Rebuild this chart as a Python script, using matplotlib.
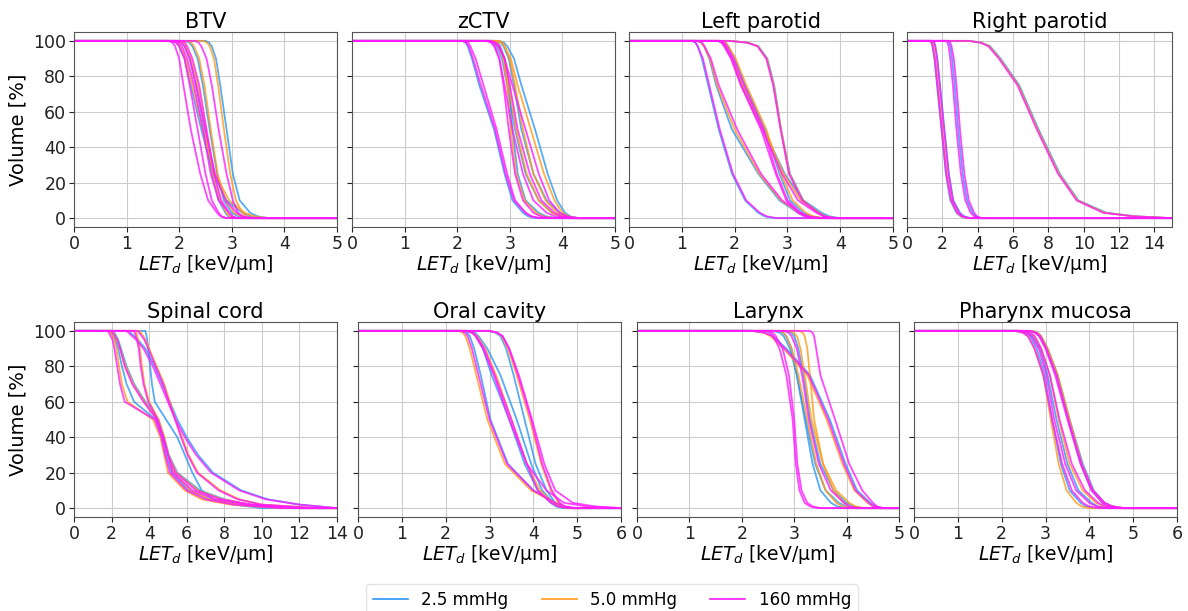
import matplotlib.pyplot as plt

LEVELS = [100, 99, 97, 90, 75, 50, 25, 10, 3, 1, 0]
SC_LEVELS = [100, 95, 90, 80, 70, 60, 50, 40, 30, 20, 10, 5, 2, 0]

OXYGEN = ['2.5 mmHg', '5.0 mmHg', '160 mmHg']
COLORS = ['#2b97f5', '#ff9a1a', '#ff1aff']

# BTV, x 0-5
BTV_BLUE = [[2.5, 2.57, 2.62, 2.7, 2.78, 2.9, 3.02, 3.15, 3.35, 3.49, 3.7],
            [1.85, 1.94, 2.0, 2.1, 2.22, 2.42, 2.65, 2.9, 3.2, 3.36, 3.6],
            [2.0, 2.06, 2.1, 2.2, 2.32, 2.48, 2.62, 2.75, 2.88, 2.93, 3.0],
            [2.1, 2.19, 2.25, 2.35, 2.45, 2.58, 2.72, 2.85, 3.0, 3.12, 3.3]]
BTV_ORANGE = [[2.45, 2.53, 2.58, 2.66, 2.74, 2.85, 2.97, 3.08, 3.2, 3.28, 3.4],
              [1.9, 1.97, 2.02, 2.12, 2.25, 2.45, 2.68, 2.95, 3.25, 3.43, 3.7],
              [2.0, 2.07, 2.12, 2.22, 2.35, 2.5, 2.64, 2.78, 2.9, 2.96, 3.05],
              [2.15, 2.23, 2.28, 2.38, 2.48, 2.6, 2.73, 2.88, 3.05, 3.19, 3.4]]
BTV_MAGENTA = [[1.8, 1.87, 1.92, 2.0, 2.08, 2.22, 2.4, 2.55, 2.72, 2.79, 2.9],
               [2.3, 2.37, 2.42, 2.52, 2.62, 2.75, 2.9, 3.02, 3.12, 3.19, 3.3],
               [1.85, 1.94, 2.0, 2.1, 2.2, 2.35, 2.5, 2.62, 2.75, 2.81, 2.9],
               [1.9, 1.99, 2.05, 2.15, 2.28, 2.45, 2.6, 2.75, 2.95, 3.01, 3.1],
               [2.05, 2.11, 2.15, 2.25, 2.38, 2.52, 2.66, 2.8, 2.95, 3.01, 3.1],
               [1.95, 2.04, 2.1, 2.2, 2.32, 2.5, 2.68, 2.88, 3.1, 3.22, 3.4]]

# zCTV, x 0-5
ZCTV_BLUE = [[2.1, 2.16, 2.2, 2.28, 2.42, 2.7, 2.9, 3.05, 3.25, 3.35, 3.5],
             [2.6, 2.69, 2.75, 2.85, 2.95, 3.1, 3.3, 3.55, 3.8, 3.96, 4.2],
             [2.75, 2.83, 2.88, 2.98, 3.08, 3.22, 3.45, 3.7, 3.95, 4.09, 4.3],
             [2.7, 2.77, 2.82, 2.9, 2.98, 3.05, 3.15, 3.3, 3.55, 3.69, 3.9],
             [2.8, 2.89, 2.95, 3.08, 3.22, 3.48, 3.72, 3.9, 4.05, 4.15, 4.3]]
ZCTV_ORANGE = [[2.65, 2.73, 2.78, 2.88, 2.98, 3.12, 3.32, 3.55, 3.8, 3.96, 4.2],
               [2.8, 2.86, 2.9, 3.0, 3.1, 3.25, 3.45, 3.68, 3.9, 4.04, 4.25],
               [2.7, 2.76, 2.8, 2.88, 2.95, 3.02, 3.12, 3.28, 3.5, 3.64, 3.85],
               [2.75, 2.84, 2.9, 3.02, 3.15, 3.4, 3.65, 3.85, 4.0, 4.12, 4.3]]
ZCTV_MAGENTA = [[2.1, 2.17, 2.22, 2.3, 2.45, 2.72, 2.92, 3.08, 3.3, 3.42, 3.6],
                [2.15, 2.21, 2.25, 2.35, 2.5, 2.75, 2.95, 3.1, 3.3, 3.4, 3.55],
                [2.55, 2.64, 2.7, 2.8, 2.9, 3.05, 3.25, 3.45, 3.7, 3.86, 4.1],
                [2.65, 2.74, 2.8, 2.9, 3.0, 3.15, 3.38, 3.6, 3.85, 3.99, 4.2],
                [2.6, 2.67, 2.72, 2.8, 2.88, 2.98, 3.1, 3.25, 3.45, 3.59, 3.8],
                [2.6, 2.71, 2.78, 2.9, 3.05, 3.3, 3.55, 3.75, 3.95, 4.09, 4.3]]

# Left parotid, x 0-5
LPAR_BLUE = [[1.2, 1.26, 1.3, 1.38, 1.5, 1.7, 1.95, 2.2, 2.45, 2.57, 2.75],
             [1.3, 1.37, 1.42, 1.52, 1.65, 1.95, 2.45, 2.85, 3.2, 3.36, 3.6],
             [1.7, 1.77, 1.82, 1.95, 2.15, 2.55, 2.95, 3.3, 3.65, 3.79, 4.0],
             [1.75, 1.83, 1.88, 2.0, 2.2, 2.58, 2.85, 3.05, 3.3, 3.46, 3.7],
             [1.9, 2.25, 2.45, 2.62, 2.75, 2.88, 3.05, 3.3, 3.6, 3.72, 3.9]]
LPAR_ORANGE = [[1.3, 1.37, 1.42, 1.53, 1.67, 2.0, 2.47, 2.88, 3.22, 3.37, 3.6],
               [1.7, 1.77, 1.82, 1.95, 2.15, 2.55, 2.93, 3.25, 3.6, 3.72, 3.9],
               [1.75, 1.83, 1.88, 2.02, 2.22, 2.6, 2.88, 3.1, 3.35, 3.49, 3.7],
               [1.9, 2.24, 2.44, 2.61, 2.74, 2.88, 3.04, 3.29, 3.59, 3.71, 3.9]]
LPAR_MAGENTA = [[1.2, 1.26, 1.3, 1.4, 1.52, 1.72, 1.97, 2.22, 2.48, 2.61, 2.8],
                [1.3, 1.38, 1.43, 1.55, 1.7, 2.05, 2.5, 2.9, 3.25, 3.39, 3.6],
                [1.68, 1.75, 1.8, 1.93, 2.12, 2.52, 2.9, 3.2, 3.55, 3.69, 3.9],
                [1.72, 1.8, 1.85, 1.98, 2.18, 2.55, 2.8, 3.0, 3.25, 3.39, 3.6],
                [1.7, 1.77, 1.82, 1.95, 2.12, 2.5, 2.78, 2.98, 3.2, 3.32, 3.5],
                [1.9, 2.23, 2.43, 2.6, 2.73, 2.87, 3.03, 3.28, 3.58, 3.7, 3.9]]

# Right parotid, x 0-15
RPAR_BLUE = [[1.3, 1.39, 1.45, 1.55, 1.7, 1.95, 2.2, 2.45, 2.8, 3.04, 3.4],
             [1.45, 1.54, 1.6, 1.72, 1.87, 2.12, 2.37, 2.62, 3.0, 3.24, 3.6],
             [2.3, 2.39, 2.45, 2.55, 2.7, 2.9, 3.15, 3.4, 3.7, 3.9, 4.2],
             [3.5, 4.2, 4.7, 5.3, 6.35, 7.45, 8.65, 9.7, 11.3, 13.0, 15.0]]
RPAR_ORANGE = [[1.35, 1.44, 1.5, 1.6, 1.75, 2.0, 2.25, 2.5, 2.85, 3.07, 3.4],
               [3.5, 4.2, 4.65, 5.25, 6.3, 7.4, 8.6, 9.65, 11.2, 12.9, 15.0]]
RPAR_MAGENTA = [[1.3, 1.39, 1.45, 1.57, 1.72, 1.97, 2.22, 2.5, 2.85, 3.11, 3.5],
                [1.45, 1.54, 1.6, 1.7, 1.85, 2.1, 2.35, 2.6, 2.95, 3.17, 3.5],
                [2.2, 2.29, 2.35, 2.45, 2.6, 2.8, 3.05, 3.3, 3.6, 3.8, 4.1],
                [2.35, 2.45, 2.52, 2.65, 2.8, 3.0, 3.25, 3.5, 3.8, 3.96, 4.2],
                [3.5, 4.15, 4.6, 5.2, 6.25, 7.35, 8.55, 9.6, 11.1, 12.8, 15.0]]

# Spinal cord, x 0-14 (finer volume levels, curves have shoulders)
SC_BLUE = [[1.9, 2.2, 2.35, 2.55, 2.8, 3.2, 4.35, 4.7, 4.9, 5.2, 6.1, 7.2, 8.7, 11],
           [2.1, 2.35, 2.5, 2.8, 3.2, 3.8, 4.5, 4.8, 5.05, 5.5, 6.7, 8.0, 9.3, 12],
           [3.8, 3.9, 3.95, 4.05, 4.15, 4.3, 4.9, 5.5, 5.9, 6.3, 6.8, 7.4, 8.5, 10],
           [2.9, 3.4, 3.8, 4.3, 4.7, 5.1, 5.5, 6.0, 6.6, 7.4, 8.9, 10.3, 12, 14]]
SC_ORANGE = [[1.9, 2.15, 2.25, 2.4, 2.55, 2.85, 4.2, 4.6, 4.8, 5.0, 5.9, 6.8, 8.3, 11],
             [2.05, 2.3, 2.45, 2.75, 3.15, 3.75, 4.45, 4.78, 5.02, 5.45, 6.6, 7.9, 9.4, 12],
             [3.3, 3.42, 3.5, 3.62, 3.75, 4.0, 4.5, 4.8, 5.0, 5.3, 6.2, 7.2, 9.0, 12],
             [3.5, 3.8, 4.0, 4.4, 4.8, 5.1, 5.4, 5.75, 6.1, 6.6, 7.8, 8.8, 10, 13]]
SC_MAGENTA = [[1.8, 2.05, 2.15, 2.3, 2.45, 2.7, 4.3, 4.65, 4.85, 5.1, 6.0, 7.0, 8.5, 11],
              [2.0, 2.3, 2.45, 2.7, 3.1, 3.7, 4.4, 4.75, 5.0, 5.4, 6.5, 7.8, 9.5, 12],
              [3.2, 3.35, 3.45, 3.55, 3.7, 3.95, 4.45, 4.75, 5.0, 5.25, 6.3, 7.5, 9.2, 12],
              [3.4, 3.75, 3.95, 4.35, 4.75, 5.05, 5.38, 5.7, 6.05, 6.55, 7.7, 8.7, 10, 13],
              [2.8, 3.3, 3.7, 4.2, 4.6, 5.0, 5.4, 5.9, 6.5, 7.3, 8.8, 10.2, 12, 14]]

# Oral cavity, x 0-6
OC_BLUE = [[2.4, 2.49, 2.55, 2.65, 2.8, 3.02, 3.42, 4.0, 4.5, 4.66, 4.9],
           [2.5, 2.62, 2.7, 2.85, 3.05, 3.45, 3.8, 4.1, 4.4, 4.52, 4.7],
           [2.55, 2.67, 2.75, 2.95, 3.25, 3.62, 3.95, 4.2, 4.45, 4.55, 4.7],
           [2.95, 3.13, 3.25, 3.38, 3.55, 3.8, 4.05, 4.3, 4.5, 4.62, 4.8]]
OC_ORANGE = [[2.3, 2.39, 2.45, 2.55, 2.7, 2.95, 3.35, 3.95, 4.5, 4.66, 4.9],
             [2.5, 2.63, 2.72, 2.9, 3.15, 3.5, 3.85, 4.15, 4.45, 4.59, 4.8],
             [3.0, 3.17, 3.28, 3.42, 3.62, 3.92, 4.18, 4.4, 4.58, 4.69, 4.85]]
OC_MAGENTA = [[2.35, 2.44, 2.5, 2.6, 2.75, 3.0, 3.4, 4.0, 4.5, 4.7, 5.0],
              [2.5, 2.62, 2.7, 2.88, 3.12, 3.5, 3.85, 4.1, 4.4, 4.56, 4.8],
              [2.45, 2.59, 2.68, 2.85, 3.1, 3.45, 3.85, 4.3, 4.7, 5.2, 6.0],
              [3.0, 3.18, 3.3, 3.45, 3.65, 3.95, 4.2, 4.42, 4.6, 4.72, 4.9],
              [3.0, 3.18, 3.3, 3.45, 3.67, 3.97, 4.25, 4.5, 4.9, 5.4, 6.0]]

# Larynx, x 0-5
LAR_BLUE = [[2.7, 2.79, 2.85, 2.95, 3.05, 3.2, 3.35, 3.5, 3.7, 3.82, 4.0],
            [2.85, 2.94, 3.0, 3.08, 3.18, 3.3, 3.5, 3.75, 4.0, 4.12, 4.3],
            [2.6, 2.72, 2.8, 2.92, 3.05, 3.22, 3.4, 3.6, 3.85, 3.99, 4.2],
            [2.2, 2.44, 2.6, 2.85, 3.3, 3.68, 3.98, 4.2, 4.45, 4.55, 4.7]]
LAR_ORANGE = [[2.7, 2.79, 2.85, 2.95, 3.08, 3.25, 3.42, 3.6, 3.8, 3.92, 4.1],
              [2.9, 2.99, 3.05, 3.12, 3.2, 3.33, 3.55, 3.8, 4.05, 4.17, 4.35],
              [3.1, 3.16, 3.2, 3.25, 3.3, 3.38, 3.55, 3.75, 3.95, 4.05, 4.2],
              [2.2, 2.41, 2.55, 2.8, 3.25, 3.62, 3.92, 4.15, 4.4, 4.5, 4.65]]
LAR_MAGENTA = [[2.45, 2.54, 2.6, 2.72, 2.85, 2.97, 3.03, 3.1, 3.2, 3.3, 3.45],
               [2.5, 2.59, 2.65, 2.78, 2.9, 3.0, 3.06, 3.14, 3.25, 3.35, 3.5],
               [2.8, 2.89, 2.95, 3.05, 3.15, 3.28, 3.47, 3.7, 3.95, 4.05, 4.2],
               [3.3, 3.35, 3.38, 3.42, 3.5, 3.78, 4.05, 4.3, 4.5, 4.58, 4.7],
               [2.2, 2.43, 2.58, 2.82, 3.28, 3.65, 3.95, 4.17, 4.42, 4.51, 4.65]]

# Pharynx mucosa, x 0-6
PM_BLUE = [[2.4, 2.55, 2.65, 2.8, 2.98, 3.15, 3.35, 3.55, 3.8, 3.92, 4.1],
           [2.45, 2.6, 2.7, 2.88, 3.05, 3.25, 3.5, 3.75, 4.05, 4.19, 4.4],
           [2.7, 2.82, 2.9, 3.05, 3.28, 3.55, 3.85, 4.1, 4.35, 4.53, 4.8],
           [2.65, 2.78, 2.87, 3.02, 3.25, 3.52, 3.8, 4.05, 4.3, 4.46, 4.7]]
PM_ORANGE = [[2.3, 2.48, 2.6, 2.75, 2.95, 3.12, 3.3, 3.48, 3.7, 3.82, 4.0],
             [2.5, 2.65, 2.75, 2.9, 3.1, 3.3, 3.55, 3.85, 4.15, 4.33, 4.6],
             [2.7, 2.82, 2.9, 3.05, 3.28, 3.55, 3.83, 4.08, 4.32, 4.51, 4.8]]
PM_MAGENTA = [[2.3, 2.48, 2.6, 2.75, 2.95, 3.15, 3.38, 3.6, 3.85, 3.99, 4.2],
              [2.4, 2.57, 2.68, 2.85, 3.02, 3.2, 3.45, 3.7, 4.0, 4.16, 4.4],
              [2.5, 2.65, 2.75, 2.9, 3.1, 3.32, 3.6, 3.9, 4.2, 4.36, 4.6],
              [2.65, 2.79, 2.88, 3.02, 3.25, 3.52, 3.82, 4.08, 4.35, 4.53, 4.8],
              [2.6, 2.75, 2.85, 3.0, 3.22, 3.5, 3.8, 4.05, 4.3, 4.46, 4.7]]

TITLES = ['BTV', 'zCTV', 'Left parotid', 'Right parotid',
          'Spinal cord', 'Oral cavity', 'Larynx', 'Pharynx mucosa']
XMAX = [5, 5, 5, 15, 14, 6, 5, 6]
XSTEP = [1, 1, 1, 2, 2, 1, 1, 1]

panels = [(BTV_BLUE, BTV_ORANGE, BTV_MAGENTA, LEVELS),
          (ZCTV_BLUE, ZCTV_ORANGE, ZCTV_MAGENTA, LEVELS),
          (LPAR_BLUE, LPAR_ORANGE, LPAR_MAGENTA, LEVELS),
          (RPAR_BLUE, RPAR_ORANGE, RPAR_MAGENTA, LEVELS),
          (SC_BLUE, SC_ORANGE, SC_MAGENTA, SC_LEVELS),
          (OC_BLUE, OC_ORANGE, OC_MAGENTA, LEVELS),
          (LAR_BLUE, LAR_ORANGE, LAR_MAGENTA, LEVELS),
          (PM_BLUE, PM_ORANGE, PM_MAGENTA, LEVELS)]

# axes boxes in pixels (left, right) per row
W, H = 1188, 611
top_x = [(74, 337), (352, 615), (629, 893), (907, 1172)]
bot_x = [(74, 337), (358, 621), (637, 899), (914, 1177)]
top_y = (227, 32)
bot_y = (517, 322)

fig = plt.figure(figsize=(W / 100, H / 100), dpi=100)

for i in range(8):
    xs = top_x[i] if i < 4 else bot_x[i - 4]
    ys = top_y if i < 4 else bot_y
    ax = fig.add_axes([xs[0] / W, 1 - ys[0] / H, (xs[1] - xs[0]) / W, (ys[0] - ys[1]) / H])
    blue, orange, magenta, lev = panels[i]
    xmax = XMAX[i]
    for rows, col in zip([blue, orange, magenta], COLORS):
        for row in rows:
            ax.plot([0] + row + [xmax], [100] + lev + [0], color=col, lw=1.3, alpha=0.8)
    ax.set_xlim(0, xmax)
    ax.set_ylim(-5, 105)
    ax.set_xticks(range(0, xmax + 1, XSTEP[i]))
    ax.set_yticks(range(0, 101, 20))
    ax.grid(True, color='#cccccc', lw=0.8)
    ax.set_axisbelow(True)
    for s in ax.spines.values():
        s.set_color('#555555')
    ax.tick_params(labelsize=12.5, colors='#222222', pad=2)
    ax.set_title(TITLES[i], fontsize=15, pad=3)
    ax.set_xlabel(r'$LET_d$ [keV/μm]', fontsize=13.5, labelpad=0)
    if i % 4 == 0:
        ax.set_ylabel('Volume [%]', fontsize=14)
    else:
        ax.set_yticklabels([])

handles = [plt.Line2D([], [], color=c, lw=1.2) for c in COLORS]
fig.legend(handles, OXYGEN, loc='upper center', bbox_to_anchor=(612 / W, 1 - 576 / H),
           ncol=3, fontsize=12, handlelength=2.1, columnspacing=2.0, frameon=True,
           edgecolor='#dddddd', fancybox=True)

fig.savefig('out.png', dpi=100)
